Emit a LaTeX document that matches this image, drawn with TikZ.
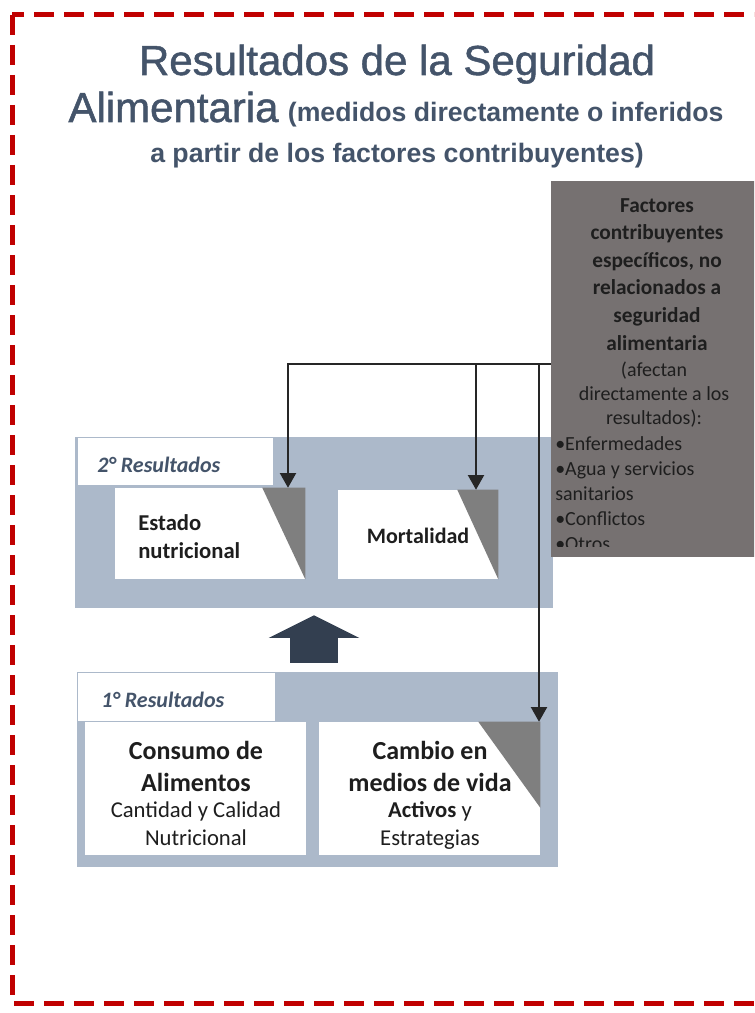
\documentclass[tikz,border=0pt]{standalone}
\usepackage{fontspec}
\setmainfont{Carlito}
\newfontfamily\titlefont{Liberation Sans}
\newfontface\titleheavy{Liberation Sans}[FakeBold=1.2]
\usetikzlibrary{arrows.meta,positioning,fit}
\definecolor{bordered}{HTML}{C00000}
\definecolor{titlecol}{HTML}{44546A}
\definecolor{panelcol}{HTML}{ACB9CA}
\definecolor{factcol}{HTML}{767171}
\definecolor{cornercol}{HTML}{7F7F7F}
\definecolor{navycol}{HTML}{333F50}
\definecolor{textcol}{HTML}{1E1E1E}

\begin{document}
\begin{tikzpicture}[x=0.75pt,y=-0.75pt, every node/.style={inner sep=0pt,text=textcol},
  panel/.style={fill=panelcol}, whitebox/.style={fill=white}, corner/.style={fill=cornercol},
  line/.style={-{Triangle[length=11pt,width=12pt]},line width=1.5pt,draw=black!85},
  bigarrow/.style={-{Triangle[length=17pt,width=68pt,line width=0pt]},line width=36pt,draw=navycol,shorten <=6.75pt,shorten >=5.25pt},
  labtext/.style={anchor=base west,font=\bfseries\itshape\fontsize{16.5}{20}\selectfont,text=titlecol}]
\path[use as bounding box] (0,0) rectangle (754,1013);
\clip (0,0) rectangle (754,1013);
\draw[bordered,line width=3.75pt,dash pattern=on 15pt off 7.5pt] (12,15) rectangle (800,1003);

% title
\node[anchor=base,font=\titleheavy\fontsize{31.5}{36}\selectfont,text=titlecol] (titulo) at (397,75) {Resultados de la Seguridad};
\node[anchor=base,text=titlecol] (titulo2) at (396,122) {{\titleheavy\fontsize{31.5}{36}\selectfont Alimentaria}\hspace{7pt}{\titlefont\bfseries\fontsize{20}{24}\selectfont (medidos directamente o inferidos}};
\node[anchor=base,font=\titlefont\bfseries\fontsize{20}{24}\selectfont,text=titlecol] (titulo3) at (397,163) {a partir de los factores contribuyentes)};

% 2° resultados
\node[panel,fit={(75,437)(553,608)}] (panel2) {};
\node[whitebox,fit={(78,438)(273,485)}] (label2) {};
\node[labtext] (lab2txt) at (97,472) {2° Resultados};
\node[whitebox,fit={(115,488)(305,579)}] (estado) {};
\node[whitebox,fit={(338,490)(498,579)}] (mortal) {};
\fill[corner] (estado.north east) -- ++(-43,0) -- (estado.south east) -- cycle;
\fill[corner] (mortal.north east) -- ++(-41,0) -- (mortal.south east) -- cycle;
\node[anchor=north west,align=left,font=\bfseries\fontsize{17}{21}\selectfont] (estadotxt) at (138,514) {Estado\\nutricional};
\node[anchor=base,font=\bfseries\fontsize{16.5}{20}\selectfont] (mortaltxt) at (418,543) {Mortalidad};

% 1° resultados
\node[panel,fit={(77,672)(558,867)}] (panel1) {};
\node[whitebox,fit={(78,673)(275,721)}] (label1) {};
\node[labtext] (lab1txt) at (101,707) {1° Resultados};
\node[whitebox,fit={(85,722)(306,855)}] (consumo) {};
\node[whitebox,fit={(319,722)(540,855)}] (cambio) {};
\fill[corner] (cambio.north east) -- ++(-62,0) -- ++(62,86) -- cycle;
\node[anchor=north,align=center,font=\bfseries\fontsize{19.5}{24}\selectfont] (consumotxt) at (196,741) {Consumo de\\Alimentos};
\node[anchor=north,align=center,font=\fontsize{17}{21}\selectfont] (consumosub) at (196,801) {Cantidad y Calidad\\Nutricional};
\node[anchor=north,align=center,font=\bfseries\fontsize{19.5}{24}\selectfont] (cambiotxt) at (430,741) {Cambio en\\medios de vida};
\node[anchor=north,align=center,font=\fontsize{17}{21}\selectfont] (cambiosub) at (430,801) {\textbf{Activos} y\\Estrategias};

\draw[bigarrow] (panel1.north -| panel2.south) -- (panel2.south);

% factores contribuyentes
\node[fill=factcol,fit={(551,181)(800,557)}] (factores) {};
\begin{scope}
\clip (551,181) rectangle (754,546);
\node[anchor=north,align=center,font=\bfseries\fontsize{16}{20.7}\selectfont] (factit) at (657,198) {Factores\\contribuyentes\\específicos, no\\relacionados a\\seguridad\\alimentaria};
\node[anchor=north,align=center,font=\fontsize{15}{18}\selectfont] (factsub) at (654,362) {(afectan\\directamente a los\\resultados):};
\node[anchor=north west,align=left,font=\fontsize{15}{18.75}\selectfont] (factlist) at (555,436) {•Enfermedades\\•Agua y servicios\\sanitarios\\•Conflictos\\•Otros};
\end{scope}

\coordinate (bus1) at (288,364);
\coordinate (bus2) at (476,364);
\coordinate (bus3) at (539,364);
\draw[line] (factores.west |- bus1) -| (estado.north -| bus1);
\draw[line] (bus2) -- (mortal.north -| bus2);
\draw[line] (bus3) -- (cambio.north -| bus3);
\end{tikzpicture}
\end{document}
